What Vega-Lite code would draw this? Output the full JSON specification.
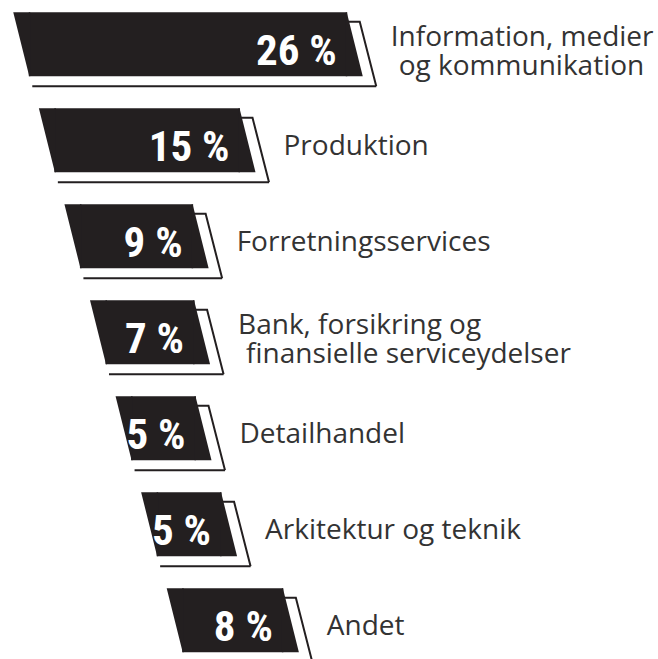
{
  "$schema": "https://vega.github.io/schema/vega-lite/v6.json",
  "width": 658,
  "height": 659,
  "autosize": {"type": "none"},
  "padding": 0,
  "background": "white",
  "config": {"view": {"stroke": null}},
  "data": {
    "values": [
      {"sector": "Information, medier og kommunikation", "line1": "Information, medier", "line2": "og kommunikation", "value": 26},
      {"sector": "Produktion", "line1": "Produktion", "line2": null, "value": 15},
      {"sector": "Forretningsservices", "line1": "Forretningsservices", "line2": null, "value": 9},
      {"sector": "Bank, forsikring og finansielle serviceydelser", "line1": "Bank, forsikring og", "line2": "finansielle serviceydelser", "value": 7},
      {"sector": "Detailhandel", "line1": "Detailhandel", "line2": null, "value": 5},
      {"sector": "Arkitektur og teknik", "line1": "Arkitektur og teknik", "line2": null, "value": 5},
      {"sector": "Andet", "line1": "Andet", "line2": null, "value": 8}
    ]
  },
  "transform": [
    {"window": [{"op": "row_number", "as": "rank"}]},
    {"calculate": "2.118 * datum.rank - 1.018", "as": "start"},
    {"calculate": "datum.start + datum.value + 1.62", "as": "end"},
    {"calculate": "datum.value + ' %'", "as": "pct"}
  ],
  "encoding": {
    "y": {
      "field": "sector",
      "type": "nominal",
      "sort": null,
      "axis": null,
      "scale": {"range": [12.3, 652.3], "paddingInner": 0.3333, "paddingOuter": 0}
    }
  },
  "layer": [
    {
      "mark": {"type": "rule", "color": "#231f20", "strokeWidth": 2, "xOffset": 19, "x2Offset": 29.5, "yOffset": 42},
      "encoding": {
        "x": {"field": "start", "type": "quantitative", "scale": {"domain": [0, 54.5], "nice": false, "zero": false}, "axis": null},
        "x2": {"field": "end"}
      }
    },
    {
      "mark": {"type": "point", "shape": "M0,-22.5L13,-22.5L29.5,42", "size": 4, "filled": false, "stroke": "#231f20", "strokeWidth": 2, "opacity": 1, "strokeJoin": "miter"},
      "encoding": {
        "x": {"field": "end", "type": "quantitative"}
      }
    },
    {
      "mark": {"type": "bar", "color": "#231f20", "xOffset": 15.5, "x2Offset": 0.5},
      "encoding": {
        "x": {"field": "start", "type": "quantitative"},
        "x2": {"field": "end"}
      }
    },
    {
      "mark": {"type": "point", "shape": "M0,-32L17,-32L17,32L16,32Z", "size": 4, "filled": true, "color": "#231f20", "opacity": 1, "strokeWidth": 0},
      "encoding": {
        "x": {"field": "start", "type": "quantitative"}
      }
    },
    {
      "mark": {"type": "point", "shape": "M-1,-32L0,-32L16,32L-1,32Z", "size": 4, "filled": true, "color": "#231f20", "opacity": 1, "strokeWidth": 0},
      "encoding": {
        "x": {"field": "end", "type": "quantitative"}
      }
    },
    {
      "mark": {"type": "text", "align": "right", "baseline": "alphabetic", "dx": -10, "dy": 20.5, "font": "Noto Sans ExtraCondensed, Noto Sans Condensed, Roboto Condensed, DejaVu Sans Condensed, Liberation Sans Narrow, Roboto", "fontSize": 43, "fontWeight": "bold", "color": "white"},
      "encoding": {
        "x": {"field": "end", "type": "quantitative"},
        "text": {"field": "pct"}
      }
    },
    {
      "transform": [{"filter": "!datum.line2"}],
      "mark": {"type": "text", "align": "left", "baseline": "alphabetic", "dx": 44, "dy": 15, "font": "Open Sans", "fontSize": 28, "color": "#333333"},
      "encoding": {
        "x": {"field": "end", "type": "quantitative"},
        "text": {"field": "line1"}
      }
    },
    {
      "transform": [{"filter": "datum.line2"}],
      "mark": {"type": "text", "align": "left", "baseline": "alphabetic", "dx": 44, "dy": 1.5, "font": "Open Sans", "fontSize": 28, "color": "#333333"},
      "encoding": {
        "x": {"field": "end", "type": "quantitative"},
        "text": {"field": "line1"}
      }
    },
    {
      "transform": [{"filter": "datum.line2"}],
      "mark": {"type": "text", "align": "left", "baseline": "alphabetic", "dx": 52, "dy": 30.5, "font": "Open Sans", "fontSize": 28, "color": "#333333"},
      "encoding": {
        "x": {"field": "end", "type": "quantitative"},
        "text": {"field": "line2"}
      }
    }
  ]
}
